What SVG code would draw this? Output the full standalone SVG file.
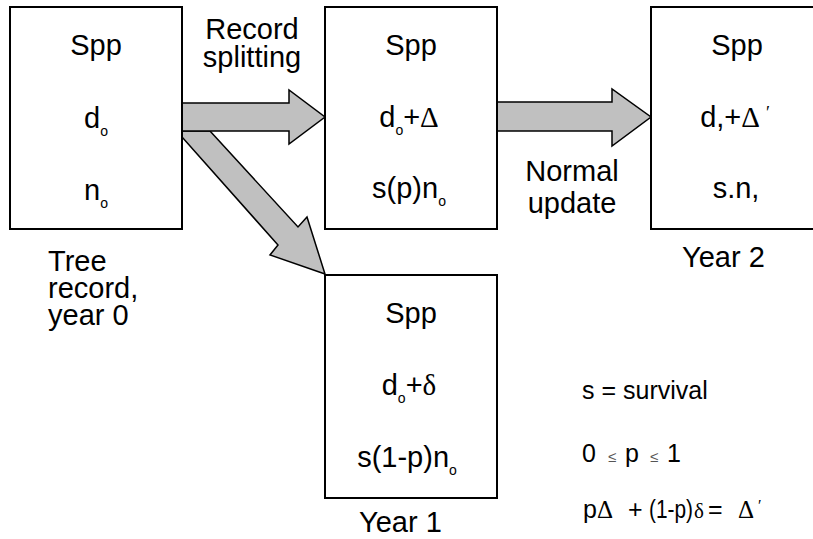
<svg xmlns="http://www.w3.org/2000/svg" width="813" height="539" viewBox="0 0 813 539">
<style>
.box{fill:#fff;stroke:#000;stroke-width:2}
.arrow{fill:#c0c0c0;stroke:#000;stroke-width:1.5;stroke-linejoin:miter}
text{font-family:"Liberation Sans",Arial,sans-serif;fill:#000}
.t{font-size:29px;text-anchor:middle}
.lbl{font-size:29px}
.side{font-size:25px}
.sub{font-size:14px}
.gr{font-family:"Liberation Serif","Times New Roman",serif}
.le{font-size:15px;fill:#555}
</style>
<rect width="813" height="539" fill="#fff"/>
<g id="connectors">
  <polygon class="arrow" points="210,131 298,227 307,217 325,274 270,255 278,245 182,137 182,131"/>
  <polygon class="arrow" points="182,103 289,103 289,90 325,117 289,144 289,131 182,131"/>
  <polygon class="arrow" points="496,102 612,102 612,89 651,117 612,146 612,131 496,131"/>
  <text class="lbl" text-anchor="middle" x="252" y="39">Record<tspan x="252" y="67">splitting</tspan></text>
  <text class="lbl" text-anchor="middle" x="572" y="181">Normal<tspan x="572" y="213">update</tspan></text>
</g>
<g id="node-year0">
  <rect class="box" x="10" y="7" width="172" height="222"/>
  <text class="t" x="96" y="55">Spp</text>
  <text class="t" x="96" y="128">d<tspan class="sub" dy="8">o</tspan></text>
  <text class="t" x="96" y="200">n<tspan class="sub" dy="8">o</tspan></text>
  <text class="lbl" x="48" y="271">Tree<tspan x="48" y="298">record,</tspan><tspan x="48" y="325">year 0</tspan></text>
</g>
<g id="node-year1-a">
  <rect class="box" x="325" y="7" width="172" height="222"/>
  <text class="t" x="411" y="55">Spp</text>
  <text class="t" x="409" y="127">d<tspan class="sub" dy="8">o</tspan><tspan dy="-8">+</tspan><tspan class="gr">Δ</tspan></text>
  <text class="t" x="409" y="198">s(p)n<tspan class="sub" dy="8">o</tspan></text>
</g>
<g id="node-year2">
  <rect class="box" x="651" y="7" width="172" height="222"/>
  <text class="t" x="737" y="55">Spp</text>
  <text class="t" x="735" y="127">d,+<tspan class="gr">Δ</tspan><tspan class="gr" font-size="18" dx="6" dy="-8">′</tspan></text>
  <text class="t" x="736" y="198">s.n,</text>
  <text class="lbl" x="682" y="267">Year 2</text>
</g>
<g id="node-year1-b">
  <rect class="box" x="325" y="275" width="172" height="223"/>
  <text class="t" x="411" y="323">Spp</text>
  <text class="t" x="409" y="395">d<tspan class="sub" dy="8">o</tspan><tspan dy="-8">+</tspan><tspan class="gr">δ</tspan></text>
  <text class="t" x="407" y="467">s(1-p)n<tspan class="sub" dy="8">o</tspan></text>
  <text class="lbl" x="359" y="532">Year 1</text>
</g>
<g id="legend">
  <text class="side" x="582" y="399">s = survival</text>
  <text class="side" x="582" y="462">0<tspan class="le" x="608">≤</tspan><tspan x="625">p</tspan><tspan class="le" x="650">≤</tspan><tspan x="667">1</tspan></text>
  <text class="side" x="583" y="518">p<tspan class="gr">Δ</tspan><tspan x="628">+</tspan><tspan x="649" textLength="44" lengthAdjust="spacingAndGlyphs">(1-p)</tspan><tspan class="gr" font-size="21" x="694">δ</tspan><tspan x="708">=</tspan><tspan class="gr" x="738">Δ</tspan><tspan class="gr" font-size="16" dx="4" dy="-7">′</tspan></text>
</g>
</svg>
